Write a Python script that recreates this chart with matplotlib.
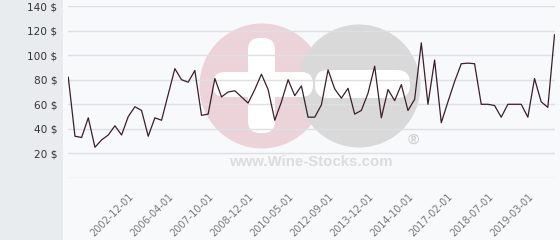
import matplotlib
matplotlib.use("Agg")
import matplotlib.pyplot as plt
from matplotlib.patches import Rectangle, Ellipse, FancyBboxPatch
from matplotlib.transforms import IdentityTransform

# ---- data ----
prices = [82, 34, 33, 49, 25, 31, 35, 42.5, 35, 50, 58, 55, 34, 49, 47, 68, 89, 80, 78,
          87.5, 51, 52, 81, 66, 70, 71, 66, 61, 72, 84.5, 72, 47, 62, 80, 67, 75, 49.5, 49.5,
          59.5, 88, 72.5, 65, 73, 52, 55, 69, 91, 49, 72, 63, 76, 55, 64, 110, 60, 96,
          45, 62, 78.5, 93, 93.5, 93, 60, 60, 59, 49.5, 60, 60, 60, 49.5, 81, 62, 57.5, 116.5]
tick_labels = ["2002-12-01", "2006-04-01", "2007-10-01", "2008-12-01", "2010-05-01",
               "2012-09-01", "2013-12-01", "2014-10-01", "2017-02-01", "2018-07-01",
               "2019-03-01"]
tick_index = list(range(9, len(prices), 6))
y_ticks = [0, 20, 40, 60, 80, 100, 120, 140]
y_labels = ["", "20 $", "40 $", "60 $", "80 $", "100 $", "120 $", "140 $"]

W, H = 560, 240
fig = plt.figure(figsize=(W / 100, H / 100), dpi=100)
fig.patch.set_facecolor("#f8f9fb")

def px(x, y):
    return x, H - y

ident = IdentityTransform()

# left panel
fig.add_artist(Rectangle((0, 0), 63, H, transform=ident, facecolor="#e8ecef",
                         edgecolor="none", zorder=0))

# watermark (decoration)
pink = "#ecd3da"
grey = "#d9d9d9"
fig.add_artist(Ellipse(px(262, 86), 125, 125, transform=ident, facecolor=pink,
                       edgecolor="none", zorder=0.1))
fig.add_artist(Ellipse(px(359, 86), 123, 123, transform=ident, facecolor=grey,
                       edgecolor="none", zorder=0.2))
# plus sign
fig.add_artist(FancyBboxPatch((248, H - 133), 27, 95, boxstyle="round,pad=0,rounding_size=12",
                              transform=ident, facecolor="white", edgecolor="none", zorder=0.3))
fig.add_artist(FancyBboxPatch((213, H - 97), 100, 25, boxstyle="round,pad=0,rounding_size=12",
                              transform=ident, facecolor="white", edgecolor="none", zorder=0.3))
# minus sign
fig.add_artist(FancyBboxPatch((315, H - 98), 95, 28, boxstyle="round,pad=0,rounding_size=13",
                              transform=ident, facecolor="white", edgecolor="none", zorder=0.3))
fig.text(311 / W, 1 - 162 / H, "www.Wine-Stocks.com", family="Liberation Sans",
         weight="bold", fontsize=10.8, color="#dcdcdc", ha="center", va="center", zorder=0.4)
fig.text(413 / W, 1 - 140 / H, "®", family="Liberation Sans", weight="bold",
         fontsize=11, color="#d2d2d2", ha="center", va="center", zorder=0.4)

# axes
left, right = 68.3 / W, 554.5 / W
bottom, top = 1 - 178 / H, 1 - 6 / H
ax = fig.add_axes([left, bottom, right - left, top - bottom], zorder=1)
ax.patch.set_alpha(0)
ax.set_xlim(0, len(prices) - 1)
ax.set_ylim(0, 140)
for s in ax.spines.values():
    s.set_visible(False)
ax.set_yticks(y_ticks)
ax.set_yticklabels(y_labels, fontsize=7.6, color="#333333")
ax.yaxis.grid(True, color="#dedfe3", linewidth=1)
ax.set_axisbelow(True)
ax.tick_params(axis="y", length=0, pad=8)
ax.set_xticks(tick_index)
ax.set_xticklabels(tick_labels, rotation=45, ha="right", rotation_mode="anchor",
                   fontsize=7, color="#777777")
ax.tick_params(axis="x", length=0, pad=10)

ax.plot(range(len(prices)), prices, color="#3b1e2b", linewidth=0.9, zorder=3)

fig.savefig("out.png", dpi=100, facecolor=fig.get_facecolor())
